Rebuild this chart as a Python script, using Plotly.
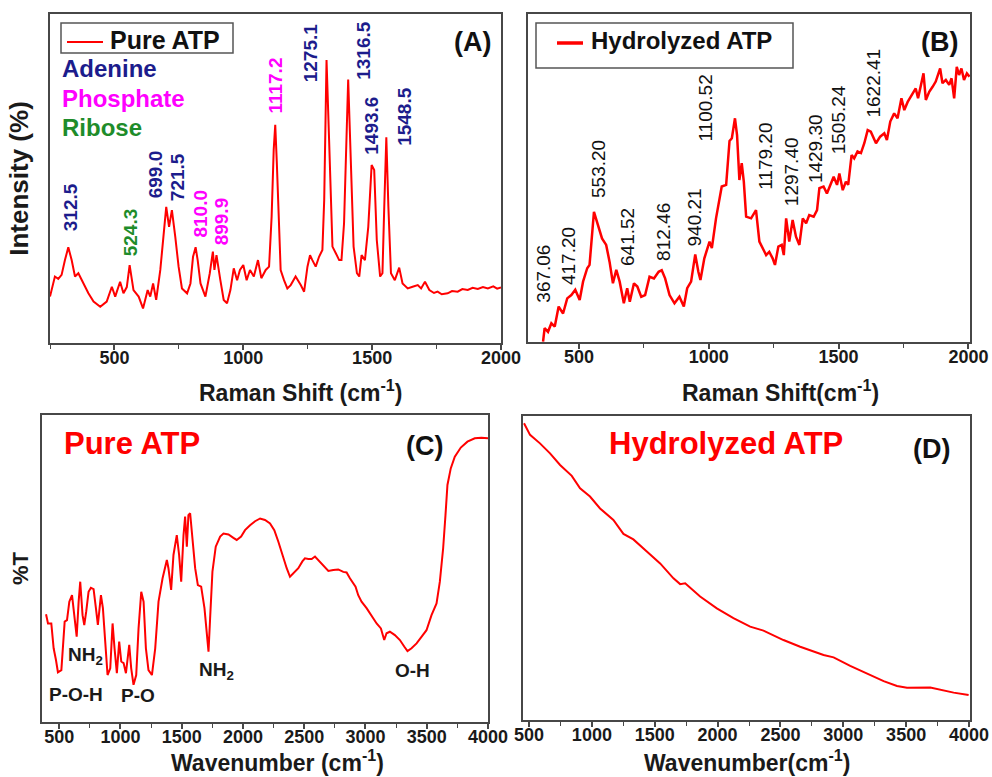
import plotly.graph_objects as go

# ---------------- data ----------------
# (A) Raman, pure ATP
ramanA_x = [250,269,282,295,308,321,334,347,360,380,399,419,445,470,490,503,522,535,548,559,574,594,611,629,639,650,662,678,691,701,712,723,736,749,762,782,795,805,815,823,834,853,870,882,888,896,911,924,937,950,963,976,987,1000,1013,1026,1041,1057,1070,1087,1100,1110,1118,1124,1130,1135,1145,1158,1171,1184,1203,1223,1236,1249,1259,1268,1281,1294,1307,1314,1323,1333,1346,1359,1372,1381,1391,1407,1417,1428,1441,1450,1459,1472,1485,1498,1508,1518,1531,1540,1547,1555,1563,1573,1588,1605,1618,1638,1657,1677,1690,1705,1722,1740,1754,1770,1793,1810,1832,1850,1871,1890,1910,1930,1949,1970,1985,2000]
ramanA_y = [14.1,20.2,19.5,20.7,25.2,29.1,25.2,20.2,21.2,18.1,15.1,12.6,11.0,12.6,17.1,14.1,18.6,15.1,17.0,23.7,16.1,14.1,10.5,16.1,14.1,18.1,13.1,22.2,32.3,41.4,35.3,40.4,32.3,23.2,16.6,15.1,18.1,26.2,29.1,25.2,18.1,14.1,21.2,27.8,22.2,26.7,19.1,13.1,12.1,16.1,22.7,19.1,22.2,23.7,19.1,22.2,20.2,25.2,19.7,22.2,23.2,38.4,58.7,66.3,55.0,41.4,22.2,19.1,16.6,17.6,20.2,17.6,15.6,23.2,26.7,25.2,23.2,26.2,28.3,43.5,86.0,61.7,29.3,27.3,25.2,25.2,36.4,80.1,56.6,29.3,21.2,20.2,26.7,25.2,35.3,54.1,52.6,31.3,20.2,21.2,41.4,62.5,41.4,21.2,19.1,22.9,18.1,16.6,17.1,17.6,16.6,18.6,16.1,15.2,15.6,14.8,15.1,15.8,15.6,16.4,16.1,16.8,16.4,17.0,16.6,17.2,16.5,16.9]
peakA_text = ["312.5","524.3","699.0","721.5","810.0","899.9","1117.2","1275.1","1316.5","1493.6","1548.5"]
peakA_group = ["Adenine","Ribose","Adenine","Adenine","Phosphate","Phosphate","Phosphate","Adenine","Adenine","Adenine","Adenine"]
peakA_at_x = [328,561,659,748,834,919,1125,1262,1468,1499,1627]
peakA_at_y = [41.3,33.7,51.4,50.5,39.2,37.1,78.1,88.3,89.1,66.0,69.0]

# (B) Raman, hydrolyzed ATP
ramanB_x = [362,368,381,394,407,422,439,455,471,486,503,516,532,541,558,573,589,605,618,631,644,657,673,686,696,712,725,740,755,772,789,807,819,832,849,868,887,904,917,932,948,960,968,983,1003,1012,1028,1050,1067,1080,1089,1101,1109,1118,1127,1135,1144,1163,1182,1195,1208,1221,1233,1246,1255,1268,1281,1289,1298,1310,1323,1336,1349,1362,1375,1387,1404,1417,1426,1442,1455,1468,1481,1494,1503,1516,1528,1537,1550,1560,1573,1586,1599,1612,1624,1644,1660,1676,1686,1699,1714,1727,1742,1753,1766,1778,1791,1797,1806,1817,1827,1836,1849,1862,1874,1891,1900,1913,1926,1935,1945,1955,1964,1973,1983,1994,2004]
ramanB_y = [0.1,4.2,3.1,5.7,4.7,10.8,8.7,13.3,14.3,15.9,12.8,18.4,22.5,23.5,39.7,35.7,31.6,29.6,24.5,17.9,22.0,18.4,11.8,16.4,12.3,17.9,16.9,13.8,14.3,19.9,19.4,21.4,21.9,19.4,14.3,11.8,13.8,10.8,16.4,18.4,26.7,21.4,18.9,25.5,30.6,28.6,37.7,47.4,47.9,61.3,62.1,68.2,63.1,49.4,54.5,48.9,38.2,37.7,40.2,30.6,28.6,26.5,27.5,25.5,23.5,29.1,29.6,26.5,37.7,30.6,37.2,32.1,29.6,37.7,36.2,38.7,38.2,40.2,46.9,47.4,45.3,47.9,50.4,47.9,51.4,46.3,48.9,47.9,57.0,56.0,58.1,57.6,60.6,64.6,64.1,60.6,62.6,63.6,61.6,67.2,69.7,68.2,74.3,70.7,73.2,74.8,76.8,77.3,74.3,77.8,81.9,73.8,76.3,77.8,79.4,83.4,78.9,79.9,78.4,80.4,74.3,83.9,81.4,83.4,79.9,81.9,80.9]
peakB_text = ["367.06","417.20","553.20","641.52","812.46","940.21","1100.52","1179.20","1297.40","1429.30","1505.24","1622.41"]
peakB_at_x = [364,458,573,685,823,945,986,1221,1317,1409,1503,1635]
peakB_at_y = [20.7,26.2,52.7,32.0,33.5,38.1,71.2,56.5,51.8,59.1,67.7,79.0]

# (C) FTIR, pure ATP
ftirC_x = [393,409,436,455,474,490,518,528,545,564,583,605,626,643,659,672,691,705,721,740,759,781,800,816,841,857,876,895,917,936,952,971,990,1007,1026,1045,1072,1088,1107,1129,1148,1170,1189,1208,1229,1257,1284,1311,1344,1379,1392,1414,1433,1460,1479,1496,1515,1528,1542,1555,1569,1588,1610,1632,1659,1686,1705,1719,1732,1751,1778,1814,1841,1882,1922,1949,1985,2017,2058,2099,2140,2180,2221,2256,2289,2322,2357,2384,2411,2452,2485,2506,2534,2561,2588,2615,2656,2697,2737,2778,2819,2846,2873,2900,2919,2941,2968,3009,3050,3091,3126,3145,3153,3172,3199,3240,3281,3316,3343,3376,3417,3457,3498,3539,3580,3607,3634,3653,3669,3696,3729,3778,3832,3892,3946,4000]
ftirC_y = [35.1,32.1,32.1,24.0,20.2,16.2,16.9,21.8,32.7,33.2,39.2,41.3,34.8,27.8,39.2,45.7,34.8,31.6,36.0,42.4,43.7,43.3,37.1,31.6,41.3,37.1,26.2,15.3,17.5,32.1,24.0,15.9,26.2,19.7,19.2,15.9,25.1,17.5,12.1,15.3,30.5,42.4,39.2,24.0,16.9,15.3,24.0,39.2,46.8,52.8,50.1,43.0,54.4,60.9,54.4,45.7,60.9,66.9,57.1,67.4,68.0,58.7,50.1,44.6,44.1,37.1,28.3,22.9,33.7,49.0,57.1,60.4,61.4,61.1,60.0,59.3,60.4,62.5,64.1,65.4,66.3,65.8,64.7,62.5,58.7,54.4,50.1,47.3,48.4,50.1,52.3,53.3,53.1,53.1,53.9,52.8,51.1,49.2,49.5,49.7,48.9,48.7,46.8,45.2,44.1,41.3,39.2,37.1,34.4,32.1,30.5,28.3,26.7,28.9,29.4,28.3,26.7,24.6,23.1,24.0,25.6,27.7,29.9,34.8,38.6,45.7,56.6,67.4,77.2,82.6,86.4,89.4,91.3,92.4,92.6,92.4]
bandC_text = ["NH<sub>2</sub>","P-O-H","P-O","NH<sub>2</sub>","O-H"]
bandC_at_x = [719,637,1142,1786,3384]
bandC_at_y = [21.5,9.1,8.5,16.6,16.9]

# (D) FTIR, hydrolyzed ATP
ftirD_x = [460,508,587,667,747,840,906,985,1065,1171,1251,1330,1437,1543,1649,1702,1742,1861,1994,2126,2259,2365,2524,2657,2843,2923,3055,3188,3321,3427,3507,3692,3772,3878,3997]
ftirD_y = [97.6,93.8,91.0,87.7,83.9,80.3,76.2,73.5,69.6,65.8,61.2,59.4,55.4,51.5,46.6,44.7,45.0,40.6,36.7,33.5,30.7,29.4,26.3,24.1,21.4,20.6,17.8,15.4,12.8,11.2,10.6,10.7,9.9,9.0,8.2]

# axis titles
xtitle_A = "Raman Shift (cm<sup>-1</sup>)"
xtitle_B = "Raman Shift(cm<sup>-1</sup>)"
xtitle_C = "Wavenumber (cm<sup>-1</sup>)"
xtitle_D = "Wavenumber(cm<sup>-1</sup>)"

# ---------------- styling ----------------
F = "Arial, Liberation Sans, sans-serif"
RED = "#FF0000"
FRAME = "#474747"
INK = "#1a1a1a"
GROUP_COLORS = {"Adenine": "#1C1C8C", "Phosphate": "#FF00FF", "Ribose": "#1E8C2A"}
W, H = 992, 777

fig = go.Figure()
fig.add_trace(go.Scatter(x=ramanA_x, y=ramanA_y, mode="lines", name="Pure ATP",
                         line=dict(color=RED, width=2), xaxis="x", yaxis="y", showlegend=False))
fig.add_trace(go.Scatter(x=ramanB_x, y=ramanB_y, mode="lines", name="Hydrolyzed ATP",
                         line=dict(color=RED, width=2.5), xaxis="x2", yaxis="y2", showlegend=False))
fig.add_trace(go.Scatter(x=ftirC_x, y=ftirC_y, mode="lines", name="Pure ATP (FTIR)",
                         line=dict(color=RED, width=2), xaxis="x3", yaxis="y3", showlegend=False))
fig.add_trace(go.Scatter(x=ftirD_x, y=ftirD_y, mode="lines", name="Hydrolyzed ATP (FTIR)",
                         line=dict(color=RED, width=2), xaxis="x4", yaxis="y4", showlegend=False))


def xdom(l, r):
    return [l / W, r / W]


def ydom(b, t):
    return [1 - b / H, 1 - t / H]


def px(x):
    return x / W


def py(y):
    return 1 - y / H


def xaxis(domain, rng, anchor):
    return dict(domain=domain, range=rng, anchor=anchor, showline=True, mirror=True,
                automargin=False,
                linecolor=FRAME, linewidth=1.5, ticks="outside", ticklen=5, tickwidth=1.5,
                tickcolor=FRAME, tick0=0, dtick=500, showgrid=False, zeroline=False,
                ticklabelstandoff=-7,
                tickfont=dict(family=F, size=18, color=INK, weight="bold"),
                minor=dict(ticks="outside", ticklen=4, tickwidth=1.2, tickcolor=FRAME,
                           dtick=250, tick0=0, showgrid=False),
                fixedrange=True)


def yaxis(domain, anchor, title=None, standoff=0, size=24):
    d = dict(domain=domain, range=[0, 100], anchor=anchor, showline=True, mirror=True,
             automargin=False,
             linecolor=FRAME, linewidth=1.5, ticks="", showticklabels=False,
             showgrid=False, zeroline=False, fixedrange=True)
    if title:
        d["title"] = dict(text=title, standoff=standoff,
                          font=dict(family=F, size=size, color=INK, weight="bold"))
    return d


annotations = []
shapes = []
# x-axis titles (placed below each panel)
for txt, cx, cy in [(xtitle_A, 300, 391), (xtitle_B, 780, 391), (xtitle_C, 277, 761), (xtitle_D, 747, 761)]:
    annotations.append(dict(x=px(cx), y=py(cy), xref="paper", yref="paper", text=txt, showarrow=False,
                            xanchor="center", yanchor="middle",
                            font=dict(family=F, size=23, color=INK, weight="bold")))
# panel A peak labels
for t, g, x, y in zip(peakA_text, peakA_group, peakA_at_x, peakA_at_y):
    annotations.append(dict(x=x, y=y, xref="x", yref="y", text=t, textangle=-90, showarrow=False,
                            xanchor="center", yanchor="middle",
                            font=dict(family=F, size=19, color=GROUP_COLORS[g], weight="bold")))
# panel A group key
for i, g in enumerate(["Adenine", "Phosphate", "Ribose"]):
    annotations.append(dict(x=px(60), y=py([68, 98, 128][i]), xref="paper", yref="paper", text=g,
                            xanchor="left", yanchor="middle", showarrow=False,
                            font=dict(family=F, size=24, color=GROUP_COLORS[g], weight="bold")))
# panel B peak labels
for t, x, y in zip(peakB_text, peakB_at_x, peakB_at_y):
    annotations.append(dict(x=x, y=y, xref="x2", yref="y2", text=t, textangle=-90, showarrow=False,
                            xanchor="center", yanchor="middle",
                            font=dict(family=F, size=19, color="#111111")))
# panel C band labels
for t, x, y in zip(bandC_text, bandC_at_x, bandC_at_y):
    annotations.append(dict(x=x, y=y, xref="x3", yref="y3", text=t, showarrow=False,
                            xanchor="center", yanchor="middle",
                            font=dict(family=F, size=19, color=INK, weight="bold")))
# panel titles inside C and D
annotations.append(dict(x=1093, y=90.6, xref="x3", yref="y3", text="Pure ATP", showarrow=False,
                        xanchor="center", yanchor="middle",
                        font=dict(family=F, size=31, color=RED, weight="bold")))
annotations.append(dict(x=2068, y=91.1, xref="x4", yref="y4", text="Hydrolyzed ATP", showarrow=False,
                        xanchor="center", yanchor="middle",
                        font=dict(family=F, size=31, color=RED, weight="bold")))
# panel letters
for txt, xr, yr, x, y in [("(A)", "x", "y", 1888, 91.5), ("(B)", "x2", "y2", 1889, 91.5),
                          ("(C)", "x3", "y3", 3481, 89.9), ("(D)", "x4", "y4", 3700, 89.1)]:
    annotations.append(dict(x=x, y=y, xref=xr, yref=yr, text=txt, showarrow=False,
                            xanchor="center", yanchor="middle",
                            font=dict(family=F, size=27, color="#111111", weight="bold")))

# legend boxes for the two Raman panels (line sample + series name)
legend_boxes = [
    # (box l, t, r, b), (line x0, x1, y), line width, text x, text y, font size, name
    ((61, 23, 233, 53), (67, 103, 42), 1.8, 108, 40, 25, "Pure ATP"),
    ((536, 23, 793, 68), (557, 583, 43), 3.5, 589, 41, 24, "Hydrolyzed ATP"),
]
for (l, t, r, b), (lx0, lx1, ly), lw, tx, ty, fs, name in legend_boxes:
    shapes.append(dict(type="rect", xref="paper", yref="paper", x0=px(l), x1=px(r), y0=py(b), y1=py(t),
                       line=dict(color="#555555", width=1.5), fillcolor="white", layer="above"))
    shapes.append(dict(type="line", xref="paper", yref="paper", x0=px(lx0), x1=px(lx1), y0=py(ly), y1=py(ly),
                       line=dict(color=RED, width=lw), layer="above"))
    annotations.append(dict(x=px(tx), y=py(ty), xref="paper", yref="paper", text=name,
                            xanchor="left", yanchor="middle",
                            showarrow=False, font=dict(family=F, size=fs, color="#111111", weight="bold")))

fig.update_layout(
    width=W, height=H, margin=dict(l=0, r=0, t=0, b=0, autoexpand=False),
    paper_bgcolor="white", plot_bgcolor="white",
    font=dict(family=F),
    showlegend=False,
    xaxis=xaxis(xdom(50, 501), [250, 2000], "y"),
    yaxis=yaxis(ydom(343, 14), "x", "Intensity (%)", 12, size=26),
    xaxis2=xaxis(xdom(528, 970), [304, 2006], "y2"),
    yaxis2=yaxis(ydom(342, 14), "x2"),
    xaxis3=xaxis(xdom(42, 488), [360, 4000], "y3"),
    yaxis3=yaxis(ydom(722, 415), "x3", "%T", 6, size=22),
    xaxis4=xaxis(xdom(523, 970), [452, 4008], "y4"),
    yaxis4=yaxis(ydom(720, 416), "x4"),
    annotations=annotations,
    shapes=shapes,
)

fig.write_html("out.html", config={"displayModeBar": False},
               post_script="document.body.style.margin='0';")
